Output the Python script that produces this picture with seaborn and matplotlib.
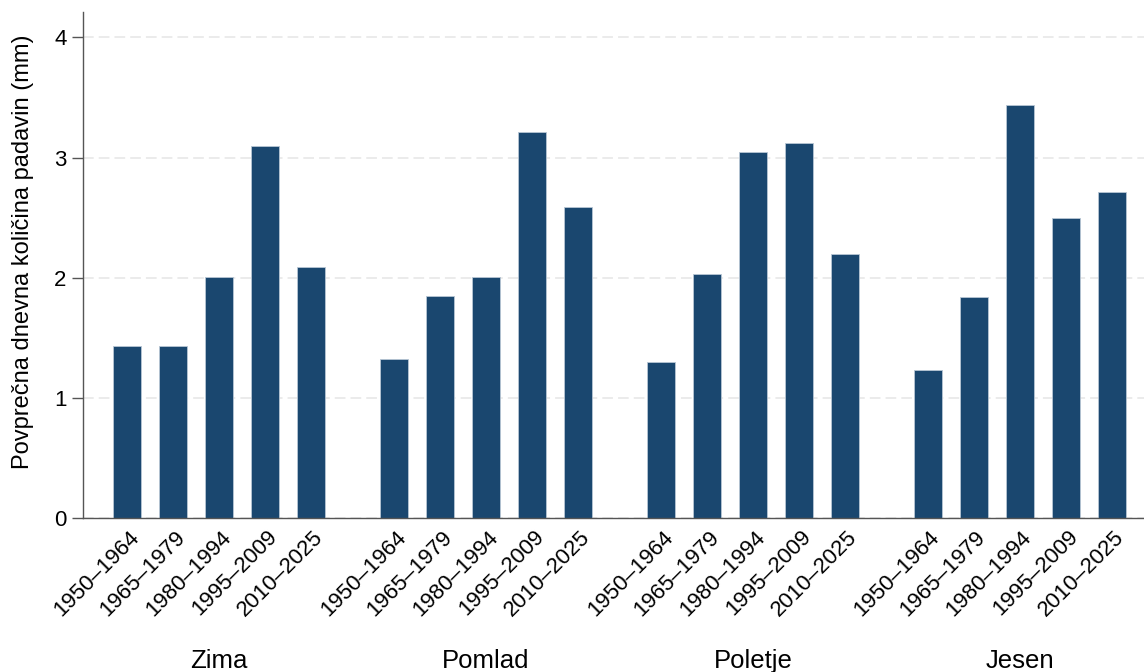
import numpy as np
import pandas as pd
import matplotlib
matplotlib.use("Agg")
import matplotlib.pyplot as plt
import matplotlib.transforms as mtransforms
import seaborn as sns

# Data
seasons = ["Zima", "Pomlad", "Poletje", "Jesen"]
periods = ["1950–1964", "1965–1979", "1980–1994", "1995–2009", "2010–2025"]
zima = [1.43, 1.43, 2.01, 3.10, 2.09]
pomlad = [1.32, 1.85, 2.01, 3.21, 2.59]
poletje = [1.30, 2.03, 3.05, 3.12, 2.20]
jesen = [1.23, 1.84, 3.44, 2.50, 2.71]

group_step = 5.8  # groups separated by a wider gap than bars within a group

rows = []
for g, (season, vals) in enumerate(zip(seasons, [zima, pomlad, poletje, jesen])):
    for p, (period, v) in enumerate(zip(periods, vals)):
        rows.append({"season": season, "period": period,
                     "pos": g * group_step + p, "value": v})
df = pd.DataFrame(rows)

sns.set_theme(style="white")
plt.rcParams["font.family"] = ["Liberation Sans", "DejaVu Sans"]

fig = plt.figure(figsize=(11.44, 6.72), dpi=100)
ax = fig.add_axes([0.0726, 0.229, 1 - 0.0726, 0.982 - 0.229])

sns.barplot(data=df, x="pos", y="value", native_scale=True, width=0.6,
            color="#1a476f", saturation=1, edgecolor="#b8c6d4",
            linewidth=0.6, ax=ax)

ax.set_xlim(-0.96, 22.1)
ax.set_ylim(0, 4.21)
ax.set_yticks([0, 1, 2, 3, 4])
ax.yaxis.grid(True, color="#e6e6e6", linestyle=(0, (7, 3.3)), linewidth=1.1)
ax.set_axisbelow(True)

for side in ["top", "right"]:
    ax.spines[side].set_visible(False)
for side in ["left", "bottom"]:
    ax.spines[side].set_color("#555555")
    ax.spines[side].set_linewidth(1.0)

ax.tick_params(axis="y", which="both", left=True, length=8, width=1.0,
               color="#555555", labelsize=16, pad=4, labelcolor="black")
ax.tick_params(axis="x", bottom=False, labelsize=16, pad=0, labelcolor="black")

ax.set_xticks(df["pos"])
ax.set_xticklabels(df["period"], rotation=45, ha="right", va="top",
                   rotation_mode="anchor")
shift = mtransforms.ScaledTranslation(1 / 72, 0, fig.dpi_scale_trans)
for lab in ax.get_xticklabels():
    lab.set_transform(lab.get_transform() + shift)

ax.set_xlabel("")
ax.set_ylabel("Povprečna dnevna količina padavin (mm)", fontsize=17,
              color="black")
ax.yaxis.set_label_coords(-0.046, 0.526)

# season labels centred under each group
for season in seasons:
    centre = df.loc[df["season"] == season, "pos"].mean()
    ax.annotate(season, xy=(centre, 0), xycoords=("data", "axes fraction"),
                xytext=(0, -108), textcoords="offset points",
                ha="center", va="baseline", fontsize=18.5, color="black")

fig.savefig("out.png", dpi=100)
